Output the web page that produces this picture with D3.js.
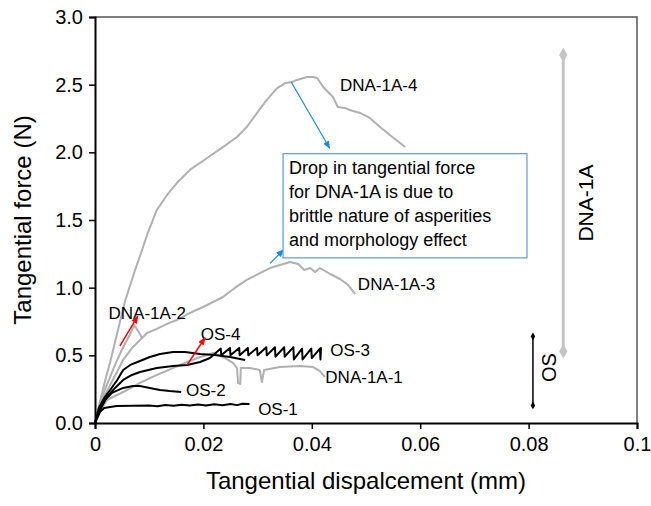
<!DOCTYPE html>
<html>
<head>
<meta charset="utf-8">
<script src="https://cdn.jsdelivr.net/npm/d3@7"></script>
<style>
  body { margin: 0; background: #fff; }
  svg { display: block; font-family: "Liberation Sans", Arial, sans-serif; }
</style>
</head>
<body>
<svg id="chart" width="651" height="506"></svg>
<script>
// ---------------- DATA ----------------
const xTicks = [0, 0.02, 0.04, 0.06, 0.08, 0.1];
const xTickLabels = ["0", "0.02", "0.04", "0.06", "0.08", "0.1"];
const yTicks = [0, 0.5, 1.0, 1.5, 2.0, 2.5, 3.0];
const yTickLabels = ["0.0", "0.5", "1.0", "1.5", "2.0", "2.5", "3.0"];

const dna1A4 = [[0,0],[0.0009,0.155],[0.0018,0.303],[0.0028,0.451],[0.0037,0.599],[0.0046,0.746],[0.0055,0.894],[0.0065,1.02],[0.0074,1.131],[0.0083,1.234],[0.0098,1.411],[0.0114,1.574],[0.0133,1.685],[0.0151,1.773],[0.0175,1.87],[0.0207,1.958],[0.0236,2.039],[0.0262,2.113],[0.028,2.187],[0.0299,2.291],[0.0317,2.387],[0.0336,2.475],[0.0351,2.512],[0.0363,2.52],[0.0373,2.535],[0.0391,2.557],[0.0402,2.557],[0.041,2.549],[0.0421,2.483],[0.0439,2.409],[0.0448,2.335],[0.0461,2.328],[0.047,2.313],[0.0489,2.291],[0.0507,2.254],[0.0526,2.187],[0.0544,2.128],[0.0563,2.069],[0.0572,2.039]];
const dna1A3 = [[0,0],[0.0009,0.133],[0.0028,0.281],[0.0052,0.466],[0.007,0.562],[0.0083,0.613],[0.0096,0.665],[0.0114,0.695],[0.0133,0.732],[0.0151,0.761],[0.0175,0.813],[0.0207,0.872],[0.0236,0.931],[0.0258,0.998],[0.028,1.057],[0.0304,1.108],[0.0323,1.145],[0.0341,1.168],[0.036,1.19],[0.0375,1.175],[0.0386,1.131],[0.0397,1.145],[0.0406,1.116],[0.0415,1.145],[0.0434,1.101],[0.0452,1.064],[0.0467,1.02],[0.048,0.953]];
const dna1A2 = [[0,0],[0.0009,0.133],[0.0018,0.244],[0.0028,0.34],[0.0037,0.429],[0.0046,0.51],[0.0055,0.584],[0.0065,0.658],[0.0072,0.724],[0.0077,0.695],[0.0083,0.658],[0.0087,0.621]];
const dna1A1 = [[0,0],[0.0009,0.081],[0.0022,0.17],[0.0052,0.229],[0.0083,0.296],[0.0114,0.355],[0.0144,0.406],[0.017,0.451],[0.0194,0.488],[0.0218,0.517],[0.024,0.48],[0.0255,0.443],[0.0262,0.406],[0.0264,0.296],[0.0268,0.288],[0.0269,0.406],[0.0286,0.406],[0.0304,0.392],[0.0308,0.303],[0.0312,0.392],[0.0341,0.414],[0.0378,0.421],[0.0402,0.414],[0.0415,0.384],[0.0424,0.34]];
const os1 = [[0,0],[0.0009,0.081],[0.0017,0.111],[0.0028,0.118],[0.004,0.125],[0.007,0.128],[0.01,0.13],[0.0115,0.124],[0.013,0.133],[0.0145,0.127],[0.016,0.135],[0.0175,0.129],[0.019,0.137],[0.0205,0.13],[0.022,0.138],[0.0235,0.131],[0.025,0.14],[0.0262,0.132],[0.0272,0.142],[0.0285,0.14]];
const os2 = [[0,0],[0.0009,0.096],[0.0018,0.17],[0.0031,0.222],[0.0052,0.259],[0.007,0.273],[0.0083,0.273],[0.0101,0.259],[0.012,0.244],[0.0138,0.236],[0.0159,0.229]];
const os4 = [[0,0],[0.0007,0.111],[0.0017,0.185],[0.0028,0.244],[0.0041,0.318],[0.0052,0.392],[0.0065,0.429],[0.0083,0.458],[0.0101,0.488],[0.012,0.51],[0.0144,0.525],[0.0166,0.525],[0.0194,0.51],[0.0221,0.502],[0.0249,0.488],[0.0277,0.466]];
const os3 = [[0,0],[0.0007,0.081],[0.0022,0.192],[0.0037,0.259],[0.0052,0.318],[0.0068,0.355],[0.0083,0.377],[0.0114,0.406],[0.0144,0.421],[0.017,0.429],[0.0194,0.451],[0.0212,0.48],[0.0218,0.50],[0.0232,0.55],[0.0233,0.50],[0.0249,0.555],[0.025,0.50],[0.0266,0.555],[0.0267,0.50],[0.0282,0.555],[0.0283,0.50],[0.0299,0.555],[0.03,0.50],[0.0316,0.56],[0.0317,0.50],[0.0332,0.56],[0.0333,0.49],[0.0349,0.56],[0.035,0.49],[0.0366,0.56],[0.0367,0.47],[0.0382,0.55],[0.0383,0.47],[0.0399,0.55],[0.04,0.48],[0.0415,0.55],[0.0416,0.47],[0.0417,0.56]];

const grayCurves = [dna1A4, dna1A3, dna1A2, dna1A1];
const blackCurves = [os1, os2, os4, os3];

const curveLabels = ["DNA-1A-4", "DNA-1A-3", "DNA-1A-2", "DNA-1A-1", "OS-4", "OS-3", "OS-2", "OS-1"];
const curveLabelX = [0.0452, 0.0485, 0.0025, 0.0425, 0.0195, 0.0434, 0.0168, 0.0301];
const curveLabelY = [2.50, 1.03, 0.81, 0.34, 0.66, 0.54, 0.24, 0.10];

// range bars: [x, yLow, yHigh]
const rangeDNA = [0.0864, 0.53, 2.72];
const rangeOS = [0.0808, 0.13, 0.64];

// arrows [x1,y1,x2,y2]
const blueArrows = [[0.0362, 2.52, 0.0433, 2.03], [0.0323, 1.18, 0.0348, 1.28]];
const redArrows = [[0.0046, 0.57, 0.0079, 0.79], [0.017, 0.43, 0.0203, 0.63]];

const noteLines = ["Drop in tangential force", "for DNA-1A is due to", "brittle nature of asperities", "and morphology effect"];

// ---------------- CHART ----------------
const svg = d3.select("#chart");
const x = d3.scaleLinear().domain([0, 0.1]).range([95, 637]);
const y = d3.scaleLinear().domain([0, 3]).range([423, 17]);

const defs = svg.append("defs");
function marker(id, color) {
  defs.append("marker").attr("id", id).attr("viewBox", "0 0 10 10")
    .attr("refX", 9).attr("refY", 5).attr("markerWidth", 8).attr("markerHeight", 8)
    .attr("markerUnits", "userSpaceOnUse").attr("orient", "auto")
    .append("path").attr("d", "M0,1 L10,5 L0,9 Z").attr("fill", color);
}
marker("blueHead", "#1c8bd6");
marker("redHead", "#ff0000");

// plot frame (top and right)
svg.append("path")
  .attr("d", `M${x(0)},${y(3)} H${x(0.1)} V${y(0)}`)
  .attr("fill", "none").attr("stroke", "#555").attr("stroke-width", 1.5);

const line = d3.line().x(d => x(d[0])).y(d => y(d[1]));

svg.append("g").selectAll("path").data(grayCurves).join("path")
  .attr("d", line).attr("fill", "none").attr("stroke", "#b0b0b0")
  .attr("stroke-width", 2).attr("stroke-linejoin", "round");

svg.append("g").selectAll("path").data(blackCurves).join("path")
  .attr("d", line).attr("fill", "none").attr("stroke", "#000")
  .attr("stroke-width", 2).attr("stroke-linejoin", "round");

// axes
const xAxis = d3.axisBottom(x).tickValues(xTicks)
  .tickFormat((d, i) => xTickLabels[i]).tickSize(6).tickPadding(8);
const gx = svg.append("g").attr("transform", `translate(0,${y(0)})`).call(xAxis);
gx.select(".domain").attr("stroke-width", 2);
gx.selectAll(".tick line").attr("stroke-width", 1.5);
gx.selectAll("text").attr("font-size", 20).attr("fill", "#000")
  .attr("font-family", "Liberation Sans, Arial, sans-serif");

const yAxis = d3.axisLeft(y).tickValues(yTicks)
  .tickFormat((d, i) => yTickLabels[i]).tickSize(6).tickPadding(6);
const gy = svg.append("g").attr("transform", `translate(${x(0)},0)`).call(yAxis);
gy.select(".domain").attr("stroke-width", 2);
gy.selectAll(".tick line").attr("stroke-width", 1.5);
gy.selectAll("text").attr("font-size", 20).attr("fill", "#000")
  .attr("font-family", "Liberation Sans, Arial, sans-serif");

// axis titles
svg.append("text").attr("x", (x(0) + x(0.1)) / 2).attr("y", 489)
  .attr("text-anchor", "middle").attr("font-size", 24).text("Tangential dispalcement (mm)");
svg.append("text").attr("transform", `translate(31,${y(1.5)}) rotate(-90)`)
  .attr("text-anchor", "middle").attr("font-size", 24).text("Tangential force (N)");

// curve labels
svg.append("g").selectAll("text").data(curveLabels).join("text")
  .attr("x", (d, i) => x(curveLabelX[i])).attr("y", (d, i) => y(curveLabelY[i]))
  .attr("dy", "0.35em").attr("font-size", 17).attr("fill", "#000").text(d => d);

// arrows
svg.append("g").selectAll("line").data(blueArrows).join("line")
  .attr("x1", d => x(d[0])).attr("y1", d => y(d[1])).attr("x2", d => x(d[2])).attr("y2", d => y(d[3]))
  .attr("stroke", "#1c8bd6").attr("stroke-width", 1.2).attr("marker-end", "url(#blueHead)");
svg.append("g").selectAll("line").data(redArrows).join("line")
  .attr("x1", d => x(d[0])).attr("y1", d => y(d[1])).attr("x2", d => x(d[2])).attr("y2", d => y(d[3]))
  .attr("stroke", "#ff0000").attr("stroke-width", 1.5).attr("marker-end", "url(#redHead)");

// note box
const boxX0 = x(0.0347), boxY0 = y(1.99), boxX1 = x(0.0797), boxY1 = y(1.22);
svg.append("rect").attr("x", boxX0).attr("y", boxY0).attr("width", boxX1 - boxX0).attr("height", boxY1 - boxY0)
  .attr("fill", "#fff").attr("stroke", "#5b9bd5").attr("stroke-width", 1.2);
svg.append("g").selectAll("text").data(noteLines).join("text")
  .attr("x", boxX0 + 6).attr("y", (d, i) => boxY0 + 20 + i * 24)
  .attr("font-size", 18).attr("fill", "#000").text(d => d);

// range bars
function rangeBar(r, color, width, size) {
  svg.append("line").attr("x1", x(r[0])).attr("x2", x(r[0])).attr("y1", y(r[1])).attr("y2", y(r[2]))
    .attr("stroke", color).attr("stroke-width", width);
  svg.append("g").selectAll("path").data([r[1], r[2]]).join("path")
    .attr("d", d3.symbol(d3.symbolDiamond, size))
    .attr("transform", d => `translate(${x(r[0])},${y(d)})`).attr("fill", color);
}
rangeBar(rangeDNA, "#c4c4c4", 3, 60);
rangeBar(rangeOS, "#000", 1.5, 18);

svg.append("text").attr("transform", `translate(${x(0.0906)},${y((rangeDNA[1] + rangeDNA[2]) / 2)}) rotate(-90)`)
  .attr("text-anchor", "middle").attr("dy", "0.35em").attr("font-size", 21).text("DNA-1A");
svg.append("text").attr("transform", `translate(${x(0.0838)},${y(0.41)}) rotate(-90)`)
  .attr("text-anchor", "middle").attr("dy", "0.35em").attr("font-size", 20).text("OS");
</script>
</body>
</html>
